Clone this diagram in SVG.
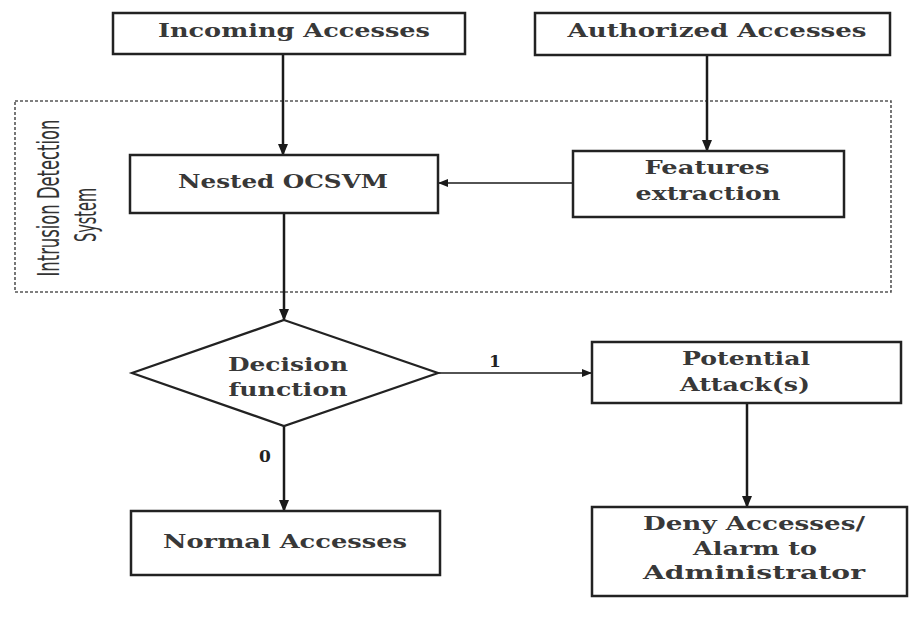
<svg xmlns="http://www.w3.org/2000/svg" width="909" height="618" viewBox="0 0 909 618">
<defs>
<marker id="ah" markerWidth="12" markerHeight="10" refX="11" refY="5" orient="auto" markerUnits="userSpaceOnUse">
<path d="M0,0 L12,5 L0,10 Z" fill="#1a1a1a"/>
</marker>
<marker id="ahs" markerWidth="10" markerHeight="8" refX="9" refY="4" orient="auto" markerUnits="userSpaceOnUse">
<path d="M0,0 L10,4 L0,8 Z" fill="#1a1a1a"/>
</marker>
</defs>
<style>
.box{fill:#fff;stroke:#222;stroke-width:2.5}
.t{font-family:"DejaVu Serif","Liberation Serif",serif;font-weight:bold;font-size:19px;fill:#383838;text-anchor:middle}
.lbl{font-family:"DejaVu Serif","Liberation Serif",serif;font-weight:bold;font-size:17px;fill:#222;text-anchor:middle}
.c{fill:none;stroke:#1a1a1a;stroke-width:2.5}
.cs{fill:none;stroke:#1a1a1a;stroke-width:1.6}
.ids{font-family:"Liberation Sans Narrow","DejaVu Sans Condensed",sans-serif;font-size:31px;fill:#333;text-anchor:middle}
</style>
<rect width="909" height="618" fill="#fff"/>
<g id="ids">
<rect x="15" y="101" width="876" height="191" fill="none" stroke="#555" stroke-width="1.6" stroke-dasharray="3 2"/>
<text class="ids" transform="translate(59,198) rotate(-90)" textLength="157" lengthAdjust="spacingAndGlyphs">Intrusion Detection</text>
<text class="ids" transform="translate(96,215) rotate(-90)" textLength="54" lengthAdjust="spacingAndGlyphs">System</text>
</g>
<g id="connectors">
<line class="c" x1="283" y1="54" x2="283" y2="155" marker-end="url(#ah)"/>
<line class="c" x1="707" y1="55" x2="707" y2="151" marker-end="url(#ah)"/>
<line class="cs" x1="573" y1="183" x2="439" y2="183" marker-end="url(#ahs)"/>
<line class="c" x1="284" y1="213" x2="284" y2="320" marker-end="url(#ah)"/>
<line class="cs" x1="438" y1="373" x2="591" y2="373" marker-end="url(#ahs)"/>
<line class="c" x1="284" y1="426" x2="284" y2="511" marker-end="url(#ah)"/>
<line class="c" x1="747" y1="403" x2="747" y2="507" marker-end="url(#ah)"/>
<text class="lbl" x="495" y="367">1</text>
<text class="lbl" x="265" y="462">0</text>
</g>
<g id="incoming">
<rect class="box" x="113" y="13" width="352" height="41"/>
<text class="t" x="294" y="37" textLength="272" lengthAdjust="spacingAndGlyphs">Incoming Accesses</text>
</g>
<g id="authorized">
<rect class="box" x="535" y="13" width="355" height="42"/>
<text class="t" x="717" y="37" textLength="299" lengthAdjust="spacingAndGlyphs">Authorized Accesses</text>
</g>
<g id="nested">
<rect class="box" x="130" y="155" width="308" height="58"/>
<text class="t" x="283" y="188" textLength="210" lengthAdjust="spacingAndGlyphs">Nested OCSVM</text>
</g>
<g id="features">
<rect class="box" x="573" y="151" width="271" height="66"/>
<text class="t" x="707" y="174" textLength="125" lengthAdjust="spacingAndGlyphs">Features</text>
<text class="t" x="708" y="200" textLength="145" lengthAdjust="spacingAndGlyphs">extraction</text>
</g>
<g id="decision">
<polygon points="284,320 438,373 284,426 132,373" fill="#fff" stroke="#222" stroke-width="2.2"/>
<text class="t" x="288" y="371" textLength="120" lengthAdjust="spacingAndGlyphs">Decision</text>
<text class="t" x="288" y="396" textLength="119" lengthAdjust="spacingAndGlyphs">function</text>
</g>
<g id="potential">
<rect class="box" x="592" y="342" width="309" height="61"/>
<text class="t" x="746" y="365" textLength="128" lengthAdjust="spacingAndGlyphs">Potential</text>
<text class="t" x="745" y="391" textLength="130" lengthAdjust="spacingAndGlyphs">Attack(s)</text>
</g>
<g id="deny">
<rect class="box" x="592" y="507" width="315" height="89"/>
<text class="t" x="754" y="530" textLength="222" lengthAdjust="spacingAndGlyphs">Deny Accesses/</text>
<text class="t" x="755" y="555" textLength="124" lengthAdjust="spacingAndGlyphs">Alarm to</text>
<text class="t" x="754" y="579" textLength="222" lengthAdjust="spacingAndGlyphs">Administrator</text>
</g>
<g id="normal">
<rect class="box" x="131" y="511" width="309" height="64"/>
<text class="t" x="285" y="548" textLength="244" lengthAdjust="spacingAndGlyphs">Normal Accesses</text>
</g>
</svg>
